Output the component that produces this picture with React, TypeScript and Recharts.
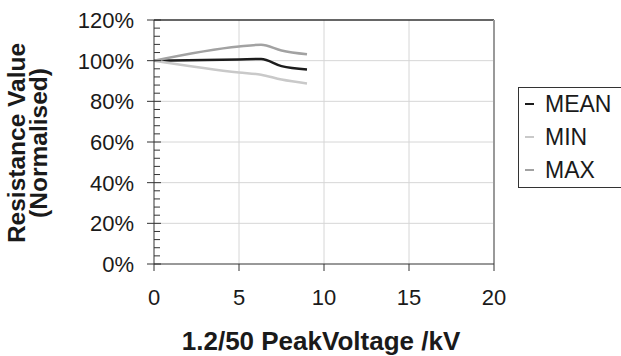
import { LineChart, Line, XAxis, YAxis, ReferenceLine } from 'recharts'

const voltages = [0, 5, 6.3, 7.5, 9]
const meanValues = [100, 100.6, 100.8, 97.3, 95.7]
const minValues = [100, 94.2, 93.1, 90.7, 88.8]
const maxValues = [100, 107, 107.8, 105, 103.1]

const xTicks = [0, 5, 10, 15, 20]
const yAll = Array.from({ length: 31 }, (_, i) => i * 4)

const FONT = '"Liberation Sans", Arial, sans-serif'

const SERIES = [
  { key: 'MEAN', color: '#1c1c1c' },
  { key: 'MIN', color: '#c9c9c9' },
  { key: 'MAX', color: '#a2a2a2' },
]

const data = voltages.map((v, i) => ({
  v,
  MEAN: meanValues[i],
  MIN: minValues[i],
  MAX: maxValues[i],
}))

// major ticks cross the axis and carry a label, minor ticks sit inside only
function YTick(props: any) {
  const { x, y, payload } = props
  const major = payload.value % 20 === 0
  return (
    <g>
      {major ? (
        <>
          <line x1={x - 7} x2={x + 7} y1={y} y2={y} stroke="#333" strokeWidth={1} />
          <text x={x - 20} y={y} dy={8} textAnchor="end" fontSize={22} fill="#1a1a1a" fontFamily={FONT}>
            {payload.value}%
          </text>
        </>
      ) : (
        <line x1={x} x2={x + 6} y1={y} y2={y} stroke="#333" strokeWidth={1} />
      )}
    </g>
  )
}

function LegendBox() {
  return (
    <div
      style={{
        position: 'absolute',
        left: 518,
        top: 87,
        width: 130,
        border: '1px solid #333',
        background: '#fff',
        padding: '0 0 0 6px',
        fontFamily: FONT,
      }}
    >
      {SERIES.map((s) => (
        <div
          key={s.key}
          style={{ display: 'flex', alignItems: 'center', height: 33, lineHeight: '33px', fontSize: 23, color: '#1a1a1a' }}
        >
          <span style={{ display: 'inline-block', width: 9, height: 2, background: s.color, marginRight: 11, marginTop: -2 }} />
          <span>{s.key}</span>
        </div>
      ))}
    </div>
  )
}

export default function App() {
  return (
    <div style={{ position: 'absolute', left: 0, top: 0, width: 621, height: 356, background: '#fff', overflow: 'hidden' }}>
      <LineChart width={621} height={356} data={data} margin={{ top: 20, right: 127, bottom: 62, left: 0 }}>
        {[20, 40, 60, 80, 100].map((y) => (
          <ReferenceLine key={'h' + y} y={y} stroke="#d6d6d6" strokeWidth={1} />
        ))}
        {[5, 10, 15].map((x) => (
          <ReferenceLine key={'v' + x} x={x} stroke="#d6d6d6" strokeWidth={1} />
        ))}
        <ReferenceLine y={120} stroke="#333" strokeWidth={1.5} />
        <ReferenceLine x={20} stroke="#999" strokeWidth={2} />
        <XAxis
          dataKey="v"
          type="number"
          domain={[0, 20]}
          ticks={xTicks}
          height={30}
          tickSize={7}
          tickMargin={18}
          axisLine={{ stroke: '#333' }}
          tickLine={{ stroke: '#333' }}
          tick={{ fontSize: 22, fill: '#1a1a1a', fontFamily: FONT }}
          label={{
            content: (p: any) => (
              <text
                x={p.viewBox.x + p.viewBox.width / 2 - 3}
                y={p.viewBox.y + 86}
                textAnchor="middle"
                fontSize={26}
                fontWeight="bold"
                fill="#1a1a1a"
                fontFamily={FONT}
              >
                1.2/50 PeakVoltage /kV
              </text>
            ),
          }}
        />
        <YAxis
          type="number"
          domain={[0, 120]}
          ticks={yAll}
          interval={0}
          width={154}
          tickSize={0}
          tickMargin={0}
          tickLine={false}
          axisLine={{ stroke: '#333' }}
          tick={<YTick />}
          label={{
            content: (p: any) => {
              const cy = p.viewBox.y + p.viewBox.height / 2 + 1
              return (
                <g fontSize={24.5} fontWeight="bold" fill="#1a1a1a" fontFamily={FONT} textAnchor="middle">
                  <text transform={`translate(25, ${cy}) rotate(-90)`}>Resistance Value</text>
                  <text transform={`translate(47, ${cy}) rotate(-90)`}>(Normalised)</text>
                </g>
              )
            },
          }}
        />
        {SERIES.map((s) => (
          <Line
            key={s.key}
            dataKey={s.key}
            type="monotone"
            stroke={s.color}
            strokeWidth={2.5}
            dot={false}
            isAnimationActive={false}
          />
        ))}
      </LineChart>
      <LegendBox />
    </div>
  )
}
